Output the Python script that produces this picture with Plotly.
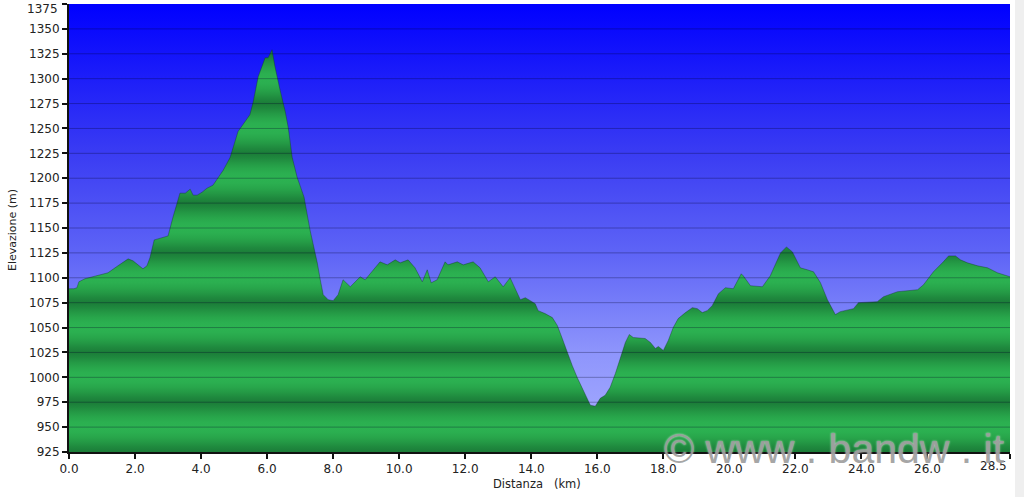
import numpy as np
import plotly.graph_objects as go

# ---------------- data ----------------
dist_km = [0.00, 0.15, 0.24, 0.30, 0.48, 0.79, 1.18, 1.48, 1.79, 1.94, 2.24, 2.36, 2.45, 2.58,
           2.76, 3.00, 3.15, 3.36, 3.52, 3.67, 3.76, 3.88, 4.03, 4.18, 4.36, 4.52, 4.67, 4.88,
           5.12, 5.27, 5.48, 5.58, 5.73, 5.94, 6.03, 6.15, 6.24, 6.39, 6.55, 6.64, 6.76, 6.91,
           7.06, 7.12, 7.30, 7.39, 7.52, 7.61, 7.70, 7.85, 8.00, 8.15, 8.30, 8.52, 8.82, 8.97,
           9.18, 9.42, 9.64, 9.88, 10.03, 10.27, 10.48, 10.70, 10.85, 10.97, 11.15, 11.39, 11.48,
           11.76, 11.94, 12.24, 12.45, 12.70, 12.91, 13.15, 13.36, 13.67, 13.82, 13.97, 14.12,
           14.21, 14.42, 14.64, 14.79, 14.94, 15.09, 15.24, 15.39, 15.58, 15.79, 15.94, 16.09,
           16.24, 16.39, 16.55, 16.70, 16.85, 16.97, 17.09, 17.45, 17.61, 17.76, 17.85, 18.00,
           18.15, 18.30, 18.45, 18.67, 18.88, 19.03, 19.18, 19.33, 19.48, 19.67, 19.88, 20.12,
           20.36, 20.42, 20.64, 21.00, 21.24, 21.55, 21.73, 21.91, 22.15, 22.36, 22.55, 22.76,
           22.97, 23.21, 23.36, 23.76, 23.91, 24.48, 24.67, 25.09, 25.70, 25.88, 26.18, 26.48,
           26.64, 26.85, 27.00, 27.21, 27.52, 27.82, 28.12, 28.50]
elev_m = [1089, 1089, 1090, 1096, 1099, 1102, 1105, 1112, 1119, 1117, 1109, 1112, 1120, 1138,
          1140, 1142, 1161, 1185, 1185, 1189, 1183, 1183, 1186, 1190, 1193, 1201, 1208, 1221,
          1247, 1254, 1264, 1277, 1302, 1321, 1321, 1329, 1312, 1289, 1267, 1251, 1221, 1201,
          1188, 1181, 1148, 1135, 1115, 1098, 1083, 1078, 1077, 1083, 1098, 1091, 1101, 1098,
          1106, 1116, 1113, 1118, 1115, 1118, 1110, 1096, 1108, 1095, 1098, 1116, 1113,
          1116, 1113, 1116, 1110, 1096, 1101, 1091, 1100, 1078, 1080, 1077, 1074,
          1067, 1064, 1060, 1052, 1039, 1025, 1012, 1000, 987, 972, 971, 979,
          982, 990, 1004, 1020, 1035, 1043, 1040, 1039, 1035, 1029, 1031, 1027,
          1037, 1050, 1059, 1065, 1070, 1069, 1065, 1067, 1072, 1084, 1090, 1089,
          1104, 1102, 1092, 1091, 1102, 1125, 1131, 1126, 1110, 1108, 1106, 1095,
          1078, 1063, 1066, 1069, 1075, 1076, 1081, 1086, 1088, 1093, 1106, 1116,
          1122, 1122, 1118, 1115, 1112, 1110, 1105, 1101]

y_tickvals = list(range(925, 1376, 25))
x_tickvals = [0, 2, 4, 6, 8, 10, 12, 14, 16, 18, 20, 22, 24, 26, 28.5]
x_ticktext = [f"{v:.1f}" for v in x_tickvals]
y_ticktext = [str(v) for v in y_tickvals]
watermark = "©\u00a0www\u00a0.\u00a0bandw\u00a0.\u00a0it"

# ---------------- layout geometry ----------------
W, H = 1024, 497
ML, MR, MT, MB = 69, 14, 4, 45
PW, PH = W - ML - MR, H - MT - MB

y_min, y_max = min(y_tickvals), max(y_tickvals)
x_min, x_max = min(x_tickvals), max(x_tickvals)


def px_to_paper_x(px):
    return (px - ML) / PW


def px_to_paper_y(py):
    return (H - MB - py) / PH


# ---------------- colour scales ----------------
blue_scale = [
    [0.0, "rgb(170,176,255)"],
    [0.222, "rgb(142,149,252)"],
    [0.444, "rgb(94,100,246)"],
    [0.667, "rgb(58,60,243)"],
    [1.0, "rgb(0,0,255)"],
]

dark = np.array([27, 124, 56])
light = np.array([44, 178, 81])
green_scale = []
levels = np.arange(y_min, y_max + 0.01, 5.0)
for e in levels:
    s = 0.5 - 0.5 * np.cos(2 * np.pi * (e - y_min) / 50.0)
    s = s ** 0.6
    c = dark + s * (light - dark)
    green_scale.append([float((e - y_min) / (y_max - y_min)),
                        "rgb(%d,%d,%d)" % tuple(int(round(v)) for v in c)])
green_scale[-1][0] = 1.0

font_family = "DejaVu Sans, Verdana, sans-serif"
tick_font = dict(family=font_family, size=12, color="#222")

fig = go.Figure()

# blue sky background
fig.add_trace(go.Scatter(
    x=[x_min, x_max, x_max, x_min, x_min],
    y=[y_min, y_min, y_max, y_max, y_min],
    mode="lines", line=dict(width=0), fill="toself",
    fillgradient=dict(type="vertical", colorscale=blue_scale, start=y_min, stop=y_max),
    hoverinfo="skip", showlegend=False,
))

# elevation profile
fig.add_trace(go.Scatter(
    x=dist_km, y=elev_m, mode="lines",
    line=dict(color="rgba(15,50,40,0.38)", width=1),
    fill="tozeroy",
    fillgradient=dict(type="vertical", colorscale=green_scale, start=y_min, stop=y_max),
    hoverinfo="skip", showlegend=False,
))

# horizontal grid lines drawn above the fills
shapes = []
for v in y_tickvals[1:-1]:
    shapes.append(dict(type="line", xref="x", yref="y", x0=x_min, x1=x_max, y0=v, y1=v,
                       line=dict(color="rgba(0,0,40,0.30)", width=1), layer="above"))
# light grey strip at the right edge of the picture
shapes.append(dict(type="rect", xref="paper", yref="paper",
                   x0=px_to_paper_x(1015), x1=px_to_paper_x(W + 2),
                   y0=px_to_paper_y(H + 2), y1=px_to_paper_y(-2),
                   fillcolor="#efefef", line=dict(width=0), layer="above"))

# the outermost tick labels are nudged inwards, as in the reference
y_ticktext_axis = y_ticktext[:-1] + [""]
x_ticktext_axis = x_ticktext[:-1] + [""]

annotations = [
    dict(text=y_ticktext[-1], xref="paper", yref="paper",
         x=px_to_paper_x(60), y=px_to_paper_y(9), xanchor="right", yanchor="middle",
         showarrow=False, font=tick_font),
    dict(text=x_ticktext[-1], xref="paper", yref="paper",
         x=px_to_paper_x(1009), y=px_to_paper_y(466), xanchor="right", yanchor="middle",
         showarrow=False, font=tick_font),
    dict(text="Distanza\u00a0\u00a0 (km)", xref="paper", yref="paper",
         x=px_to_paper_x(537), y=px_to_paper_y(484), xanchor="center", yanchor="middle",
         showarrow=False, font=dict(family=font_family, size=11.5, color="#222")),
    dict(text="Elevazione (m)", xref="paper", yref="paper", textangle=-90,
         x=px_to_paper_x(12), y=px_to_paper_y(230), xanchor="center", yanchor="middle",
         showarrow=False, font=dict(family=font_family, size=11, color="#222")),
    dict(text=watermark, xref="paper", yref="paper",
         x=px_to_paper_x(834), y=px_to_paper_y(449), xanchor="center", yanchor="middle",
         showarrow=False,
         font=dict(family="Liberation Sans, Arial, sans-serif",
                   size=41, color="rgba(150,150,150,0.85)",
                   shadow="0px 0px 2px rgba(255,255,255,0.9)")),
]

axis_common = dict(showgrid=False, zeroline=False, showline=True, linecolor="#111",
                   linewidth=2, ticks="outside", ticklen=5, tickwidth=2, tickcolor="#111",
                   tickfont=tick_font, fixedrange=True, ticklabeloverflow="allow")

fig.update_layout(
    width=W, height=H, autosize=False,
    margin=dict(l=ML, r=MR, t=MT, b=MB, pad=0),
    paper_bgcolor="white", plot_bgcolor="white",
    xaxis=dict(range=[x_min, x_max], tickvals=x_tickvals, ticktext=x_ticktext_axis, **axis_common),
    yaxis=dict(range=[y_min, y_max], tickvals=y_tickvals, ticktext=y_ticktext_axis, **axis_common),
    shapes=shapes, annotations=annotations, showlegend=False,
)

fig.write_html("out.html", config={"displayModeBar": False},
               post_script="document.body.style.margin='0px';document.body.style.padding='0px';")
